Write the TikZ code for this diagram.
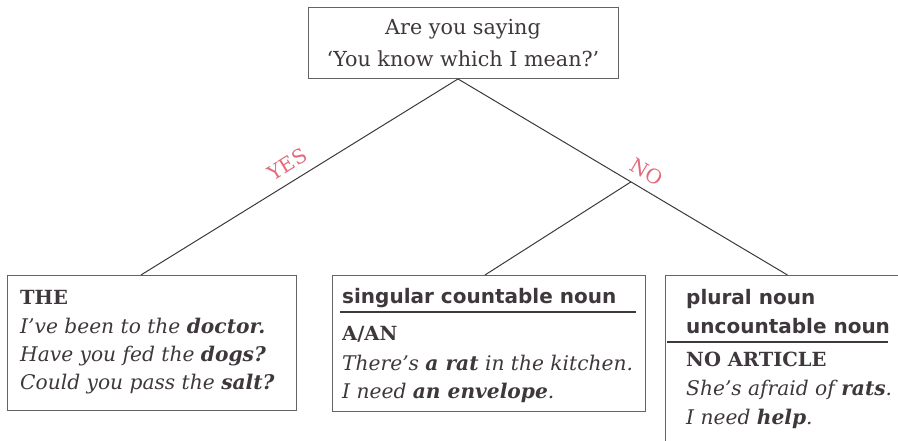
\documentclass[tikz,border=0pt]{standalone}
\usepackage{fontspec}
\setmainfont{DejaVu Serif}
\setsansfont{DejaVu Sans}
\usepackage{xcolor}
\usepackage{tikz}
\usetikzlibrary{positioning, calc}
\definecolor{inkgray}{RGB}{62, 56, 60}
\definecolor{framegray}{RGB}{100, 100, 100}
\definecolor{answerpink}{RGB}{226, 106, 122}
\tikzstyle{question} = [
    rectangle,
    draw=framegray,
    line width=0.9pt,
    minimum width=310pt,
    minimum height=71pt,
    align=center,
    text=inkgray,
    font=\fontsize{20.7}{32}\selectfont
]
\tikzstyle{answer} = [
    rectangle,
    draw=framegray,
    line width=0.9pt,
    anchor=north west,
    inner sep=0pt
]
\tikzstyle{heading} = [
    anchor=base west,
    inner sep=0pt,
    text=inkgray,
    font=\sffamily\bfseries\fontsize{20}{28}\selectfont
]
\tikzstyle{label} = [
    anchor=base west,
    inner sep=0pt,
    text=inkgray,
    font=\bfseries\fontsize{19.5}{28}\selectfont
]
\tikzstyle{example} = [
    anchor=base west,
    inner sep=0pt,
    text=inkgray,
    font=\itshape\fontsize{20.2}{28}\selectfont
]
\tikzstyle{branch} = [
    draw=inkgray,
    line width=1pt
]
\tikzstyle{rule} = [
    draw=inkgray,
    line width=1.4pt
]
\tikzstyle{choice} = [
    sloped,
    above=9pt,
    inner sep=0pt,
    text=answerpink,
    font=\fontsize{20}{20}\selectfont
]

\begin{document}
\begin{tikzpicture}[x=1pt, y=-1pt]
        \useasboundingbox (0,0) rectangle (898,441);

        % question and the three answers
        \node[question] (ask) at (463,43) {Are you saying\\`You know which I mean?'};
        \node[answer, minimum width=289pt, minimum height=135pt] (the) at (7,275) {};
        \node[answer, minimum width=313pt, minimum height=136pt] (aan) at (332,275) {};
        \node[answer, minimum width=244pt, minimum height=185pt] (none) at (665,275) {};

        % THE
        \node[label] (the-head) at (20,304) {THE};
        \node[example] (the-ex1) at (20,333) {I've been to the \textbf{doctor.}};
        \node[example] (the-ex2) at (20,361) {Have you fed the \textbf{dogs?}};
        \node[example] (the-ex3) at (20,389) {Could you pass the \textbf{salt?}};

        % A/AN
        \node[heading] (aan-kind) at (342,303) {singular countable noun};
        \draw[rule] ($(aan.north west)+(8,37)$) -- ($(aan.north east)+(-10,37)$);
        \node[label] (aan-head) at (342,340) {A/AN};
        \node[example] (aan-ex1) at (342,370) {There's \textbf{a rat} in the kitchen.};
        \node[example] (aan-ex2) at (342,398) {I need \textbf{an envelope}.};

        % no article
        \node[heading] (none-kind1) at (686,305) {plural noun};
        \node[heading] (none-kind2) at (686,333) {uncountable noun};
        \draw[rule] ($(none.north west)+(2,67)$) -- ($(none.north east)+(-22,67)$);
        \node[label] (none-head) at (686,366) {NO ARTICLE};
        \node[example] (none-ex1) at (686,395) {She's afraid of \textbf{rats}.};
        \node[example] (none-ex2) at (686,424) {I need \textbf{help}.};

        % branches
        \coordinate (apex) at ([xshift=-5pt]ask.south);
        \coordinate (split) at ($(apex)!0.525!(none.north)$);
        \draw[branch] (apex) -- node[choice, pos=0.51]{YES} ([xshift=-11pt]the.north);
        \draw[branch] (apex) -- node[choice, pos=0.547]{NO} (none.north);
        \draw[branch] (split) -- ([xshift=-4pt]aan.north);
    \end{tikzpicture}
\end{document}
